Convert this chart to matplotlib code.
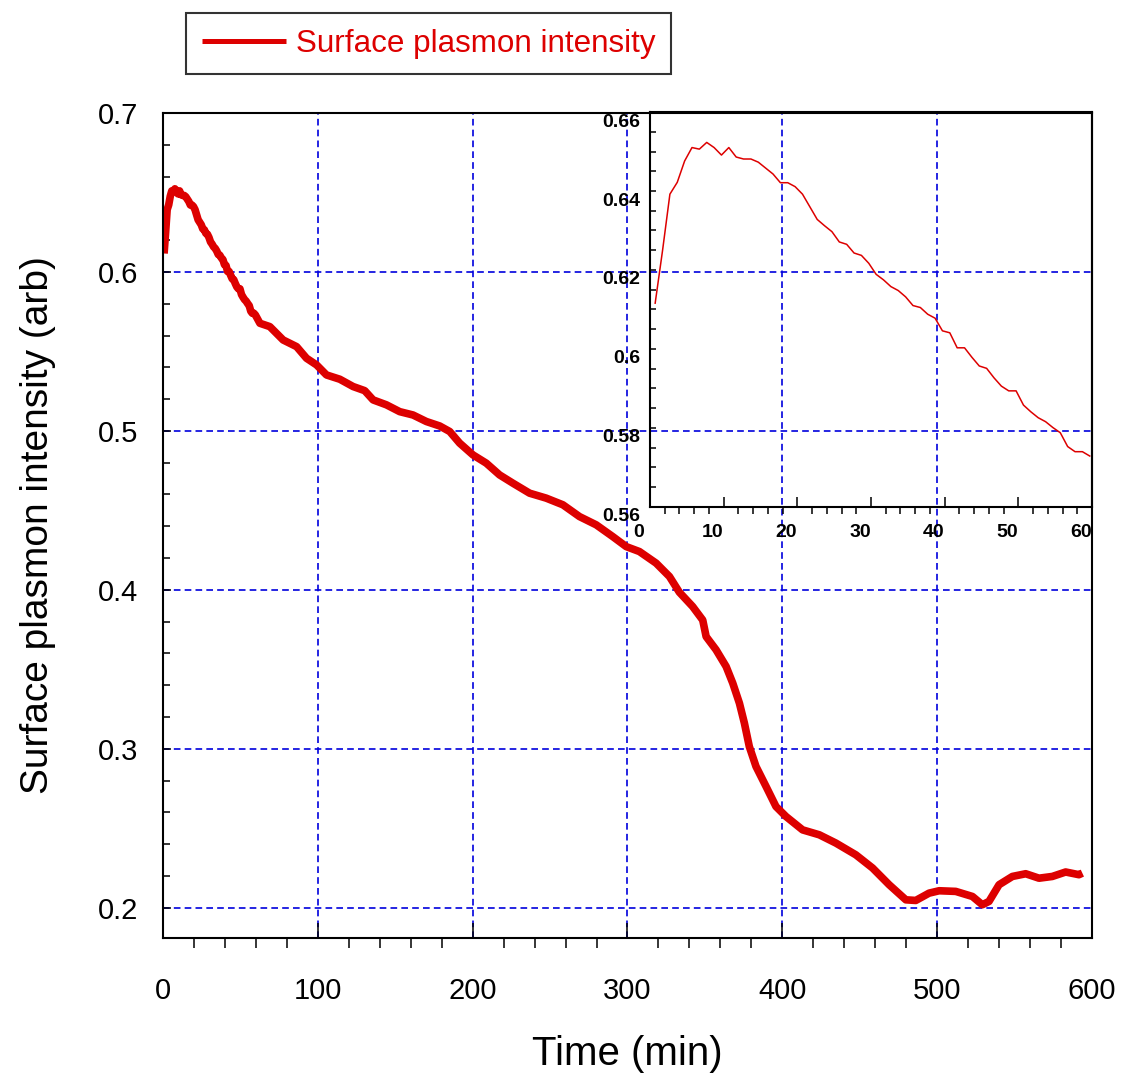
import matplotlib
matplotlib.use("Agg")
import matplotlib.pyplot as plt
from matplotlib.ticker import MultipleLocator
from matplotlib.transforms import ScaledTranslation

plt.rcParams['font.family'] = ['Liberation Sans', 'DejaVu Sans']

# first hour, one reading per minute (shown in the inset)
t_early = [0.7, 1.7, 2.7, 3.7, 4.7, 5.7, 6.7, 7.7, 8.7, 9.7,
           10.7, 11.7, 12.7, 13.7, 14.7, 15.7, 16.7, 17.7, 18.7, 19.7,
           20.7, 21.7, 22.7, 23.7, 24.7, 25.7, 26.7, 27.7, 28.7, 29.7,
           30.7, 31.7, 32.7, 33.7, 34.7, 35.7, 36.7, 37.7, 38.7, 39.7,
           40.7, 41.7, 42.7, 43.7, 44.7, 45.7, 46.7, 47.7, 48.7, 49.7,
           50.7, 51.7, 52.7, 53.7, 54.7, 55.7, 56.7, 57.7, 58.7, 59.7]
v_early = [0.6116, 0.6249, 0.6392, 0.6422, 0.6476, 0.6510, 0.6506, 0.6523, 0.6510, 0.6491,
           0.6510, 0.6486, 0.6481, 0.6481, 0.6473, 0.6458, 0.6443, 0.6421, 0.6421, 0.6411,
           0.6392, 0.6360, 0.6328, 0.6312, 0.6297, 0.6271, 0.6265, 0.6243, 0.6237, 0.6217,
           0.6189, 0.6175, 0.6158, 0.6148, 0.6132, 0.6110, 0.6105, 0.6088, 0.6078, 0.6046,
           0.6041, 0.6003, 0.6003, 0.5979, 0.5957, 0.5951, 0.5927, 0.5906, 0.5894, 0.5894,
           0.5858, 0.5841, 0.5826, 0.5816, 0.5801, 0.5788, 0.5753, 0.5740, 0.5740, 0.5729]

# rest of the run
t_late = [62.6, 69.0, 77.6, 86.3, 92.7, 99.2, 105.6, 114.2, 122.8, 130.3,
          135.7, 144.3, 152.9, 161.5, 170.1, 178.7, 185.2, 191.6, 200.2, 208.8,
          217.4, 226.0, 236.8, 247.5, 258.3, 269.0, 279.8, 290.5, 299.2, 307.7,
          318.5, 327.1, 333.5, 342.1, 348.6, 350.8, 357.2, 363.7, 368.0, 372.3,
          375.5, 378.7, 383.0, 389.5, 395.9, 402.4, 413.1, 423.9, 434.6, 447.5,
          458.3, 469.0, 479.8, 486.2, 494.8, 501.3, 512.0, 522.8, 529.2, 533.5,
          540.0, 548.6, 557.2, 565.8, 574.4, 583.0, 591.6, 593.8]
v_late = [0.5677, 0.5656, 0.5572, 0.5530, 0.5457, 0.5415, 0.5352, 0.5325, 0.5279, 0.5253,
          0.5195, 0.5164, 0.5121, 0.5100, 0.5059, 0.5031, 0.4996, 0.4923, 0.4849, 0.4797,
          0.4723, 0.4671, 0.4608, 0.4577, 0.4535, 0.4461, 0.4409, 0.4335, 0.4272, 0.4241,
          0.4168, 0.4084, 0.3985, 0.3895, 0.3810, 0.3706, 0.3623, 0.3518, 0.3413, 0.3287,
          0.3162, 0.3014, 0.2889, 0.2763, 0.2637, 0.2574, 0.2490, 0.2459, 0.2407, 0.2333,
          0.2250, 0.2145, 0.2050, 0.2046, 0.2092, 0.2107, 0.2103, 0.2071, 0.2019, 0.2040,
          0.2145, 0.2197, 0.2214, 0.2186, 0.2197, 0.2225, 0.2208, 0.2218]

t_all = t_early + t_late
v_all = v_early + v_late

red = '#dd0000'
blue = '#0000dd'

fig = plt.figure(figsize=(11.24, 10.78), dpi=100)
ax = fig.add_axes([0.145, 0.1299, 0.8265, 0.7653])

line, = ax.plot(t_all, v_all, color=red, lw=5.5, solid_capstyle='butt', solid_joinstyle='round')

ax.set_xlim(0, 600)
ax.set_ylim(0.181, 0.7)
ax.xaxis.set_major_locator(MultipleLocator(100))
ax.xaxis.set_minor_locator(MultipleLocator(20))
ax.yaxis.set_major_locator(MultipleLocator(0.1))
ax.yaxis.set_minor_locator(MultipleLocator(0.02))
ax.grid(True, which='major', color=blue, linestyle=(0, (4, 2.5)), linewidth=1.2)

ax.tick_params(axis='x', which='major', direction='in', length=11, width=1.1, pad=28, labelsize=21)
ax.tick_params(axis='x', which='minor', direction='out', length=7, width=1.1)
ax.tick_params(axis='y', which='major', direction='in', length=6, width=1.1, pad=18, labelsize=21)
ax.tick_params(axis='y', which='minor', direction='in', length=5, width=1.1)
for s in ax.spines.values():
    s.set_linewidth(1.5)

ax.set_xlabel('Time (min)', fontsize=29, labelpad=22)
ax.set_ylabel('Surface plasmon intensity (arb)', fontsize=28, labelpad=30)

# inset: first hour
ins = fig.add_axes([0.5783, 0.5297, 0.3932, 0.3664])
ins.set_facecolor('none')
ins.plot(t_early, v_early, color=red, lw=1.1)
ins.set_xlim(0, 60)
ins.set_ylim(0.56, 0.66)
ins.xaxis.set_major_locator(MultipleLocator(10))
ins.xaxis.set_minor_locator(MultipleLocator(2))
ins.yaxis.set_major_locator(MultipleLocator(0.02))
ins.yaxis.set_minor_locator(MultipleLocator(0.005))
ins.yaxis.set_major_formatter(lambda v, p: '0.6' if abs(v - 0.6) < 1e-9 else f'{v:.2f}')
ins.tick_params(axis='x', which='major', direction='in', length=7, width=1.1, pad=12, labelsize=14)
ins.tick_params(axis='x', which='minor', direction='out', length=5, width=1.1)
ins.tick_params(axis='y', which='both', direction='in', length=4.5, width=1.1, pad=7, labelsize=14)
for s in ins.spines.values():
    s.set_linewidth(1.5)
for lab in ins.get_xticklabels() + ins.get_yticklabels():
    lab.set_fontweight('bold')

dx = ScaledTranslation(-11 / 100, 0, fig.dpi_scale_trans)
dy = ScaledTranslation(0, -8 / 100, fig.dpi_scale_trans)
for lab in ins.xaxis.get_majorticklabels():
    lab.set_transform(lab.get_transform() + dx)
for lab in ins.yaxis.get_majorticklabels():
    lab.set_transform(lab.get_transform() + dy)

leg = fig.legend([line], ['Surface plasmon intensity'], loc='upper left',
                 bbox_to_anchor=(0.1655, 0.988), fontsize=22.6, labelcolor=red,
                 frameon=True, fancybox=False, edgecolor='black', borderpad=0.5,
                 handlelength=2.7, handletextpad=0.3, borderaxespad=0)
leg.get_frame().set_linewidth(1.5)
leg.get_lines()[0].set_linewidth(3.6)

fig.savefig('out.png', dpi=100)
